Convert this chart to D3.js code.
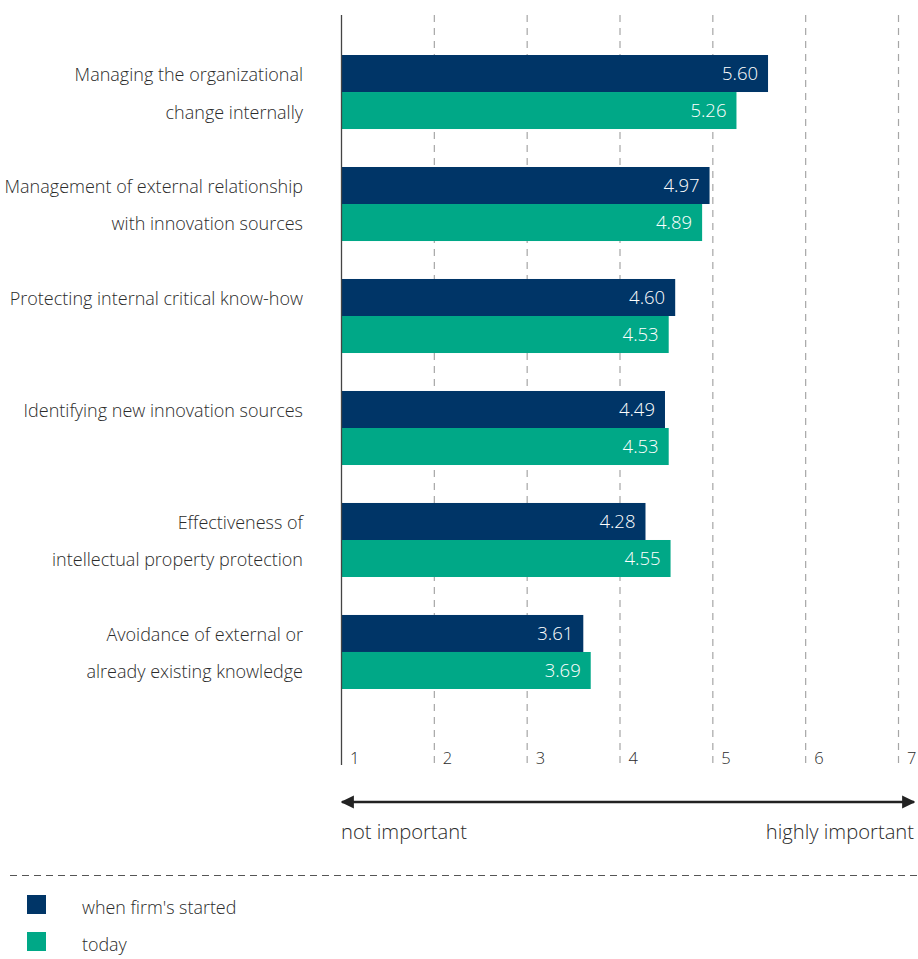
<!DOCTYPE html>
<html>
<head>
<meta charset="utf-8">
<script src="https://cdn.jsdelivr.net/npm/d3@7"></script>
<style>
  html, body { margin: 0; padding: 0; background: #fff; }
  svg { display: block; font-family: "Open Sans", "Noto Sans", sans-serif; font-weight: 300; }
</style>
</head>
<body>
<svg id="chart" width="918" height="959"></svg>
<script>
// Importance ratings on a 1–7 scale
const categories = [
  ["Managing the organizational", "change internally"],
  ["Management of external relationship", "with innovation sources"],
  ["Protecting internal critical know-how"],
  ["Identifying new innovation sources"],
  ["Effectiveness of", "intellectual property protection"],
  ["Avoidance of external or", "already existing knowledge"]
];
const seriesNames = ["when firm's started", "today"];
const startedValues = [5.60, 4.97, 4.60, 4.49, 4.28, 3.61];
const todayValues = [5.26, 4.89, 4.53, 4.53, 4.55, 3.69];
const tickValues = [1, 2, 3, 4, 5, 6, 7];
const colors = ["#003567", "#00a887"];
const textColor = "#2b2b2b";

const svg = d3.select("#chart");
const x = d3.scaleLinear().domain([1, 7]).range([341, 898]);
const y = d3.scaleBand().domain(d3.range(categories.length)).range([55, 689]).paddingInner(0.339).paddingOuter(0);
const sub = d3.scaleBand().domain([0, 1]).range([0, y.bandwidth()]);

const plotTop = 15, plotBottom = 765;

// dashed gridlines
svg.append("g").selectAll("line")
  .data(tickValues.slice(1))
  .join("line")
  .attr("x1", d => x(d) + 0.5).attr("x2", d => x(d) + 0.5)
  .attr("y1", plotTop).attr("y2", plotBottom)
  .attr("stroke", "#a6a6a6").attr("stroke-width", 1.2)
  .attr("stroke-dasharray", "7,6");

// bars
const groups = svg.append("g").selectAll("g")
  .data(categories.map((c, i) => ({ c, i, vals: [startedValues[i], todayValues[i]] })))
  .join("g")
  .attr("transform", d => `translate(0,${y(d.i)})`);

groups.selectAll("rect")
  .data(d => d.vals.map((v, k) => ({ v, k })))
  .join("rect")
  .attr("x", x(1))
  .attr("y", d => sub(d.k))
  .attr("width", d => x(d.v) - x(1))
  .attr("height", sub.bandwidth())
  .attr("fill", d => colors[d.k]);

groups.selectAll("text.val")
  .data(d => d.vals.map((v, k) => ({ v, k })))
  .join("text")
  .attr("class", "val")
  .attr("x", d => x(d.v) - 10)
  .attr("y", d => sub(d.k) + sub.bandwidth() / 2)
  .attr("dy", "0.36em")
  .attr("text-anchor", "end")
  .attr("fill", "#fff")
  .attr("font-size", 18.5)
  .text(d => d.v.toFixed(2));

// category labels
groups.append("text")
  .attr("text-anchor", "end")
  .attr("fill", textColor)
  .attr("font-size", 18)
  .each(function (d) {
    const t = d3.select(this);
    d.c.forEach((line, j) => {
      t.append("tspan")
        .attr("x", 303)
        .attr("y", sub(j) + sub.bandwidth() / 2 + 1.5)
        .attr("dy", "0.36em")
        .text(line);
    });
  });

// value axis baseline
svg.append("line")
  .attr("x1", x(1) + 0.5).attr("x2", x(1) + 0.5)
  .attr("y1", plotTop).attr("y2", plotBottom)
  .attr("stroke", "#444").attr("stroke-width", 1.3);

// tick labels
svg.append("g").selectAll("text")
  .data(tickValues)
  .join("text")
  .attr("x", d => x(d) + 9)
  .attr("y", 758)
  .attr("dy", "0.36em")
  .attr("fill", textColor)
  .attr("font-size", 16.5)
  .text(d => d);

// double-headed scale arrow
const defs = svg.append("defs");
defs.append("marker")
  .attr("id", "head")
  .attr("viewBox", "0 0 10 10")
  .attr("refX", 9).attr("refY", 5)
  .attr("markerWidth", 5.5).attr("markerHeight", 5.5)
  .attr("markerUnits", "strokeWidth")
  .attr("orient", "auto-start-reverse")
  .append("path").attr("d", "M0,0 L10,5 L0,10 Z").attr("fill", "#222");

svg.append("line")
  .attr("x1", x(1) + 1).attr("x2", 914)
  .attr("y1", 802).attr("y2", 802)
  .attr("stroke", "#222").attr("stroke-width", 2.4)
  .attr("marker-start", "url(#head)")
  .attr("marker-end", "url(#head)");

svg.append("text")
  .attr("x", x(1)).attr("y", 832).attr("dy", "0.36em")
  .attr("fill", textColor).attr("font-size", 20.2)
  .text("not important");
svg.append("text")
  .attr("x", 914).attr("y", 832).attr("dy", "0.36em")
  .attr("text-anchor", "end")
  .attr("fill", textColor).attr("font-size", 20.2)
  .text("highly important");

// separator above legend
svg.append("line")
  .attr("x1", 10).attr("x2", 918)
  .attr("y1", 875.5).attr("y2", 875.5)
  .attr("stroke", "#555").attr("stroke-width", 1.2)
  .attr("stroke-dasharray", "7,5");

// legend
const legend = svg.append("g").selectAll("g")
  .data(seriesNames)
  .join("g")
  .attr("transform", (d, i) => `translate(27,${895 + i * 37})`);
legend.append("rect")
  .attr("width", 19).attr("height", 19)
  .attr("fill", (d, i) => colors[i]);
legend.append("text")
  .attr("x", 55).attr("y", 13).attr("dy", "0.36em")
  .attr("fill", textColor).attr("font-size", 17.9)
  .text(d => d);
</script>
</body>
</html>
